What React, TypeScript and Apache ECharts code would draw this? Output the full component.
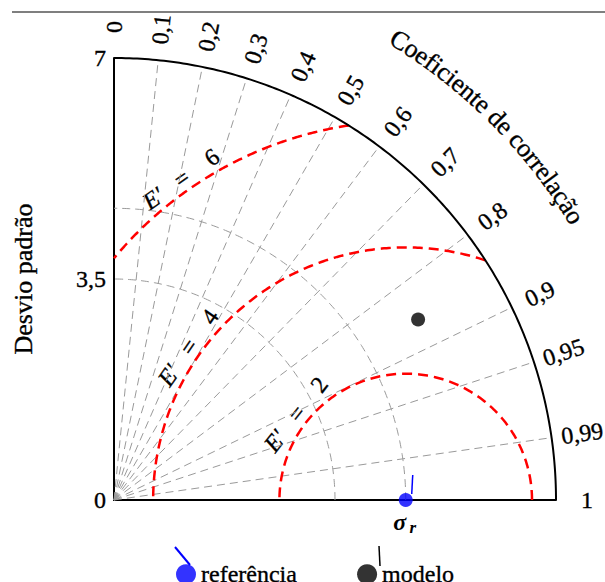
import React, { useEffect, useRef } from "react";
import * as echarts from "echarts";

// ---- data ----
const stdMax = 7;
const stdInterval = 3.5;
const corrTicks = [0, 0.1, 0.2, 0.3, 0.4, 0.5, 0.6, 0.7, 0.8, 0.9, 0.95, 0.99, 1];
const corrLabels = ["0", "0,1", "0,2", "0,3", "0,4", "0,5", "0,6", "0,7", "0,8", "0,9", "0,95", "0,99", "1"];
const refStd = 4.62;
const modelStd = 5.6;
const modelCorr = 0.86;
const rmsLevels = [2, 4, 6];
const rmsLabelAngles = [142, 145, 125]; // degrees, around the reference point
const greyArcs = [3.5, refStd];
const seriesNames = ["referência", "modelo"];
const stdTitle = "Desvio padrão";
const corrTitle = "Coeficiente de correlação";

const FONT = "'Liberation Serif', 'Times New Roman', serif";
const HEAVY = { textBorderColor: "#000", textBorderWidth: 0.35 };

function arcPoints(r: number, n = 180) {
  const pts: number[][] = [];
  for (let i = 0; i <= n; i++) {
    const t = (i / n) * (Math.PI / 2);
    pts.push([r * Math.cos(t), r * Math.sin(t)]);
  }
  return pts;
}

function rmsPoints(c: number, e: number, n = 200) {
  const cmin = Math.max(-1, -c / e);
  const cmax = Math.min(1, (stdMax * stdMax - c * c - e * e) / (2 * c * e));
  const p0 = Math.acos(cmax);
  const p1 = Math.acos(cmin);
  const pts: number[][] = [];
  for (let i = 0; i <= n; i++) {
    const p = p0 + ((p1 - p0) * i) / n;
    pts.push([c + e * Math.cos(p), e * Math.sin(p)]);
  }
  return pts;
}

export default function App() {
  const ref = useRef<HTMLDivElement>(null);
  useEffect(() => {
    document.body.style.margin = "0";
    const chart = echarts.init(ref.current!, null, { renderer: "svg" });
    const series: any[] = [];
    corrTicks
      .filter((c) => c > 0 && c < 1)
      .forEach((c) => {
        const t = Math.acos(c);
        series.push({
          type: "line",
          data: [
            [0, 0],
            [stdMax * Math.cos(t), stdMax * Math.sin(t)],
          ],
          symbol: "none",
          silent: true,
          clip: false,
          z: 1,
          lineStyle: { color: "#9a9a9a", width: 1, type: [8, 5] },
        });
      });
    greyArcs.forEach((r) => {
      series.push({
        type: "line",
        data: arcPoints(r),
        symbol: "none",
        silent: true,
        clip: false,
        z: 1,
        lineStyle: { color: "#9a9a9a", width: 1, type: [8, 5] },
      });
    });
    series.push({
      type: "line",
      data: arcPoints(stdMax),
      symbol: "none",
      silent: true,
      clip: false,
      z: 3,
      lineStyle: { color: "#000", width: 2 },
    });
    rmsLevels.forEach((e) => {
      series.push({
        type: "line",
        data: rmsPoints(refStd, e),
        symbol: "none",
        silent: true,
        clip: false,
        z: 2,
        lineStyle: { color: "#ff0000", width: 2.5, type: [10, 6] },
      });
    });
    series.push({
      type: "scatter",
      name: seriesNames[0],
      data: [[refStd, 0]],
      symbolSize: 14,
      clip: false,
      z: 5,
      itemStyle: { color: "#0000ff" },
    });
    const mt = Math.acos(modelCorr);
    series.push({
      type: "scatter",
      name: seriesNames[1],
      data: [[modelStd * Math.cos(mt), modelStd * Math.sin(mt)]],
      symbolSize: 14,
      clip: false,
      z: 5,
      itemStyle: { color: "#000" },
    });

    chart.setOption({
      animation: false,
      grid: { left: 114, top: 58, width: 442, height: 442, outerBoundsMode: "none" },
      xAxis: {
        type: "value",
        min: 0,
        max: stdMax,
        axisLine: { show: true, lineStyle: { color: "#000", width: 2 } },
        axisTick: { show: false },
        axisLabel: { show: false },
        splitLine: { show: false },
      },
      yAxis: {
        type: "value",
        min: 0,
        max: stdMax,
        interval: stdInterval,
        name: stdTitle,
        nameLocation: "middle",
        nameGap: 78,
        nameTextStyle: { fontFamily: FONT, fontSize: 26, color: "#000", ...HEAVY },
        axisLine: { show: true, lineStyle: { color: "#000", width: 2 } },
        axisTick: { show: false },
        splitLine: { show: false },
        axisLabel: {
          fontFamily: FONT,
          fontSize: 24,
          color: "#000",
          margin: 8,
          ...HEAVY,
          formatter: (v: number) => String(v).replace(".", ","),
        },
      },
      legend: {
        data: seriesNames,
        left: 176,
        top: 562,
        padding: 0,
        icon: "circle",
        itemWidth: 20,
        itemHeight: 20,
        itemGap: 60,
        textStyle: { fontFamily: FONT, fontSize: 24, color: "#000", ...HEAVY },
      },
      series,
    });

    const px = (x: number, y: number) => chart.convertToPixel({ gridIndex: 0 }, [x, y]) as number[];
    const o = px(0, 0);
    const scale = px(1, 0)[0] - o[0];
    const g: any[] = [];

    // top rule
    g.push({ type: "line", shape: { x1: 12, y1: 12, x2: 605, y2: 12 }, style: { stroke: "#555", lineWidth: 1.5 } });

    // correlation tick labels
    const labelR = 473;
    corrTicks.forEach((c, i) => {
      const t = Math.acos(c);
      g.push({
        type: "text",
        x: o[0] + labelR * Math.cos(t),
        y: o[1] - labelR * Math.sin(t),
        rotation: t,
        style: {
          text: corrLabels[i],
          fontFamily: FONT,
          fontSize: 24,
          fill: "#000",
          align: "center",
          verticalAlign: "middle",
          stroke: "#000",
          lineWidth: 0.35,
        },
      });
    });

    // curved title
    const titleSize = 26;
    const titleR = 541;
    const cv = document.createElement("canvas").getContext("2d")!;
    cv.font = `${titleSize}px 'Liberation Serif'`;
    const chars = Array.from(corrTitle);
    const widths = chars.map((ch) => cv.measureText(ch).width);
    const total = widths.reduce((a, b) => a + b, 0);
    const mid = Math.PI / 4;
    let acc = 0;
    chars.forEach((ch, i) => {
      const th = mid + total / 2 / titleR - (acc + widths[i] / 2) / titleR;
      acc += widths[i];
      if (ch === " ") return;
      g.push({
        type: "text",
        x: o[0] + titleR * Math.cos(th),
        y: o[1] - titleR * Math.sin(th),
        rotation: th - Math.PI / 2,
        style: {
          text: ch,
          fontFamily: FONT,
          fontSize: titleSize,
          fill: "#000",
          align: "center",
          verticalAlign: "middle",
          stroke: "#000",
          lineWidth: 0.35,
        },
      });
    });

    // RMS labels
    const rp = px(refStd, 0);
    rmsLevels.forEach((e, i) => {
      const a = (rmsLabelAngles[i] * Math.PI) / 180;
      const rr = e * scale + 13;
      g.push({
        type: "text",
        x: rp[0] + rr * Math.cos(a),
        y: rp[1] - rr * Math.sin(a),
        rotation: a - Math.PI / 2,
        style: {
          text: "{e|E′}\u2002\u00A0=\u2002\u2002" + e,
          fontFamily: FONT,
          fontSize: 24,
          fill: "#000",
          align: "center",
          verticalAlign: "middle",
          stroke: "#000",
          lineWidth: 0.35,
          rich: { e: { fontFamily: FONT, fontSize: 24, fontStyle: "italic", fill: "#000" } },
        },
      });
    });

    // sigma_r label
    g.push({
      type: "text",
      x: rp[0] - 6,
      y: rp[1] + 22,
      style: { text: "σ", fontFamily: FONT, fontSize: 24, fontStyle: "italic", fontWeight: "bold", fill: "#000", align: "center", verticalAlign: "middle" },
    });
    g.push({
      type: "text",
      x: rp[0] + 7,
      y: rp[1] + 27,
      style: { text: "r", fontFamily: FONT, fontSize: 17, fontStyle: "italic", fontWeight: "bold", fill: "#000", align: "center", verticalAlign: "middle" },
    });
    // small marker strokes
    g.push({ type: "line", shape: { x1: rp[0] + 6, y1: rp[1] - 6, x2: rp[0] + 7, y2: rp[1] - 25 }, style: { stroke: "#0000ff", lineWidth: 1.5 }, z: 10 });
    g.push({ type: "line", shape: { x1: 175, y1: 547, x2: 190, y2: 565 }, style: { stroke: "#0000ff", lineWidth: 2 }, z: 10 });
    g.push({ type: "line", shape: { x1: 379, y1: 546, x2: 380, y2: 566 }, style: { stroke: "#000", lineWidth: 1.5 }, z: 10 });

    chart.setOption({ graphic: g });
    return () => chart.dispose();
  }, []);
  return <div ref={ref} style={{ width: 605, height: 582 }} />;
}
